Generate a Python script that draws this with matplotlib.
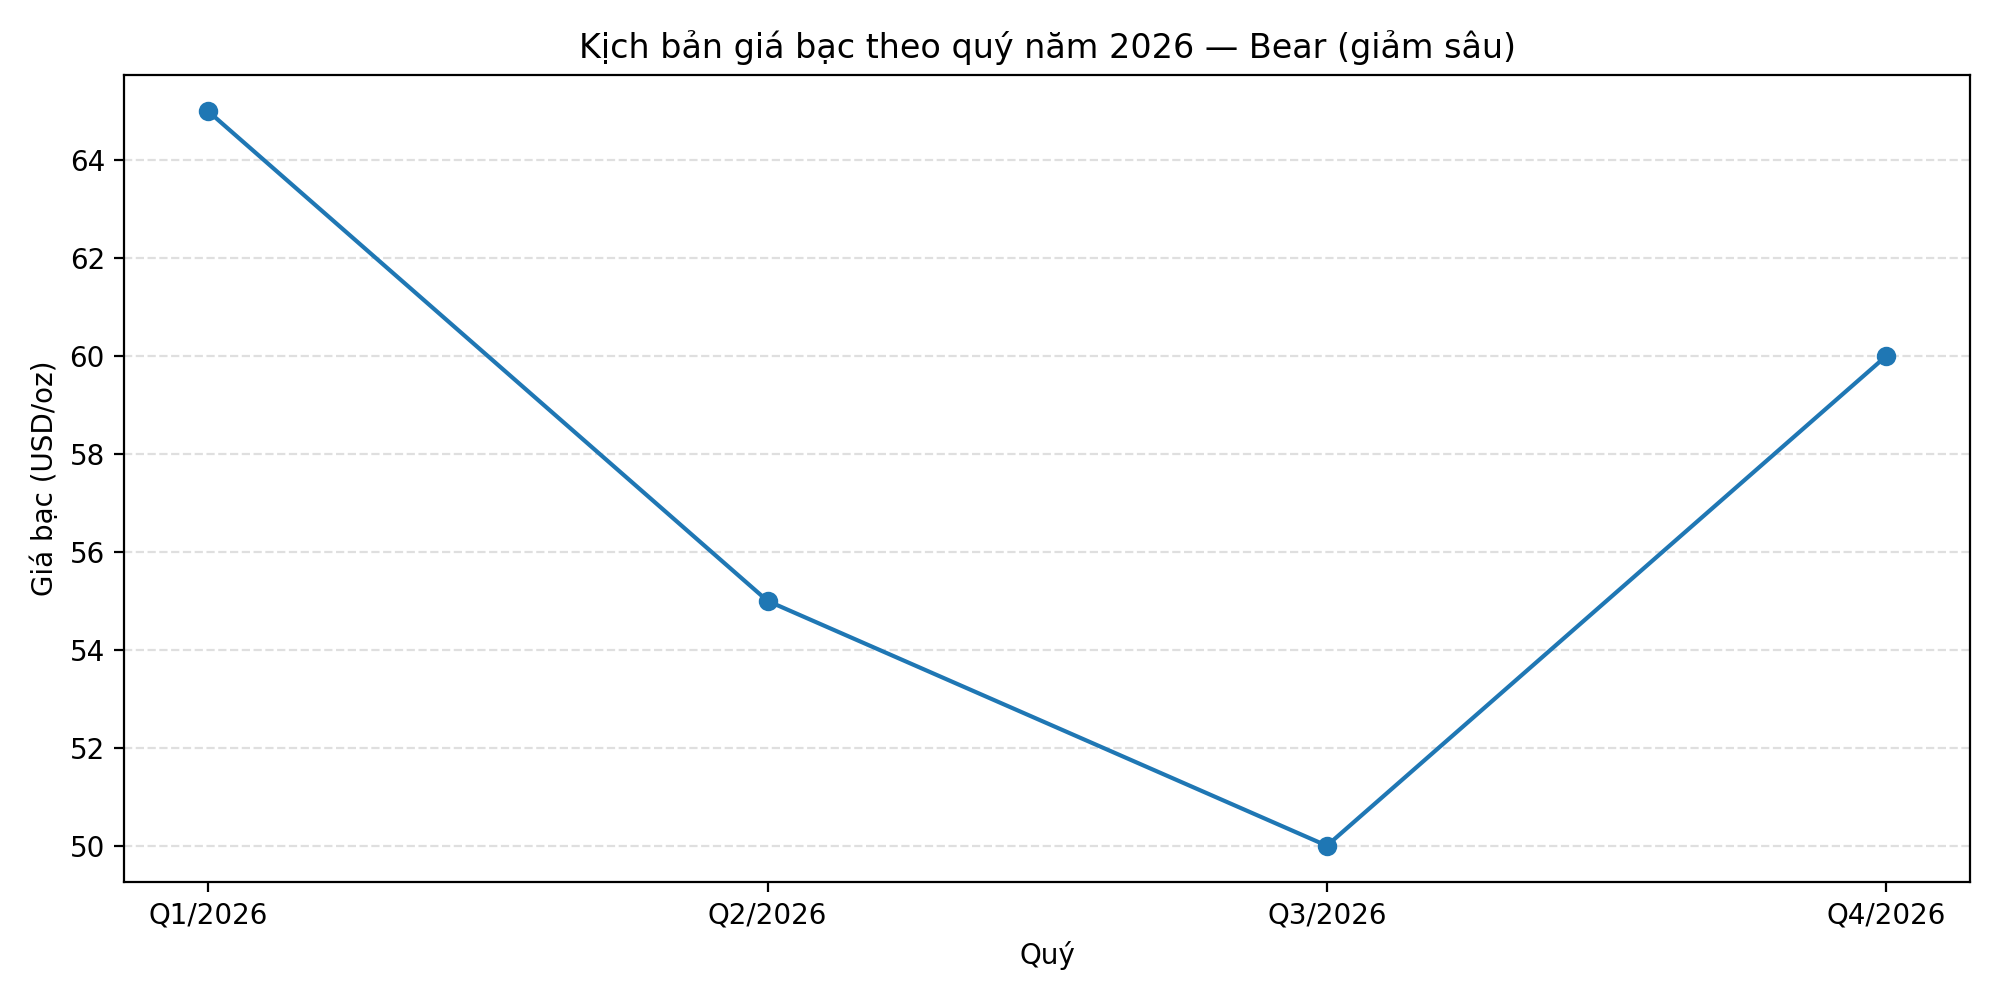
import matplotlib
matplotlib.use("Agg")
import matplotlib.pyplot as plt

quarters = ["Q1/2026", "Q2/2026", "Q3/2026", "Q4/2026"]
prices = [65, 55, 50, 60]

fig, ax = plt.subplots(figsize=(10, 5), dpi=200)
ax.plot(quarters, prices, marker="o", color="#1f77b4")
ax.set_title("Kịch bản giá bạc theo quý năm 2026 — Bear (giảm sâu)")
ax.set_xlabel("Quý")
ax.set_ylabel("Giá bạc (USD/oz)")
ax.grid(axis="y", linestyle="--", alpha=0.4)
fig.tight_layout()
fig.savefig("out.png")
